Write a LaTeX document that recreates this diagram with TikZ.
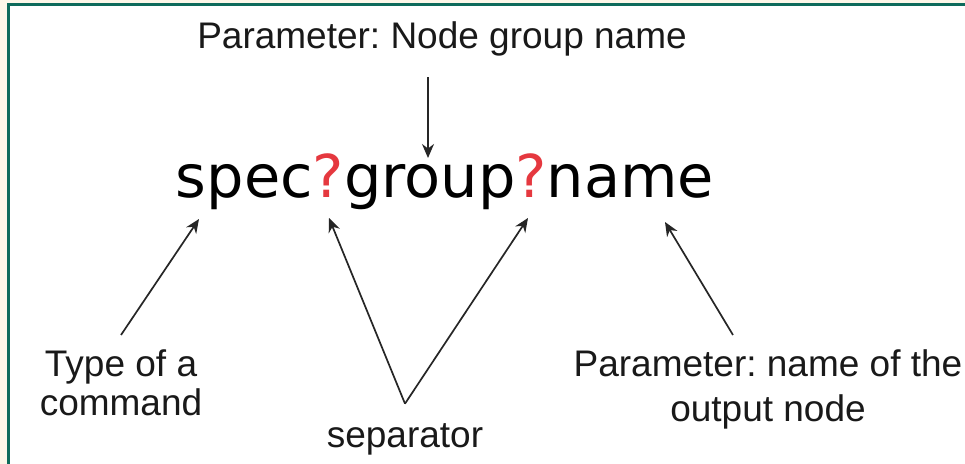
\documentclass[tikz,border=0pt]{standalone}
\usepackage{fontspec}
\setmainfont{Liberation Sans}
\newfontfamily\codefont{DejaVu Sans}
\usetikzlibrary{arrows.meta}
\frenchspacing

\definecolor{frame}{HTML}{0E6B5C}
\definecolor{paper}{HTML}{FDF7E9}
\definecolor{qmark}{HTML}{E5383F}

\tikzset{
	lbl/.style={font=\fontsize{18.5pt}{19.5pt}\selectfont, align=center, inner sep=0pt, text=black!90},
	arr/.style={-{Stealth[length=7pt,width=6pt]}, line width=0.85pt, draw=black!85}
}

\begin{document}
\begin{tikzpicture}[x=0.5pt,y=-0.5pt]
	% frame
	\useasboundingbox (0,0) rectangle (965,464);
	\fill[paper] (0,0) rectangle (965,464);
	\fill[white] (8.5,4.5) rectangle (965,464);
	\draw[frame, line width=1.3pt] (8.5,464) -- (8.5,4.5) -- (965,4.5);

	\node[font=\fontsize{29.5pt}{30pt}\codefont, inner sep=0pt, anchor=base] (cmd) at (445,198)
		{spec\textcolor{qmark}{?}group\textcolor{qmark}{?}name};

	\coordinate (tgroup) at (428,158);
	\coordinate (tspec) at (199,219);
	\coordinate (tsep1) at (329,218);
	\coordinate (tsep2) at (528,218);
	\coordinate (tname) at (665,222);

	\node[lbl, anchor=base] (grp) at (442,49) {Parameter: Node group name};
	\node[lbl, anchor=north] (type) at (121,349) {Type of a\\command};
	\node[lbl, anchor=base] (sep) at (405,448) {separator};
	\node[lbl, anchor=north, font=\fontsize{18.5pt}{22.5pt}\selectfont] (out) at (768,349) {Parameter: name of the\\output node};

	\draw[arr, shorten <=10pt] (tgroup |- grp.south) -- (tgroup);
	\draw[arr] ([yshift=7pt]type.north) -- (tspec);
	\draw[arr] ([yshift=10pt]sep.north) -- (tsep1);
	\draw[arr] ([yshift=10pt]sep.north) -- (tsep2);
	\draw[arr] ([xshift=-17.5pt,yshift=7pt]out.north) -- (tname);
\end{tikzpicture}
\end{document}
